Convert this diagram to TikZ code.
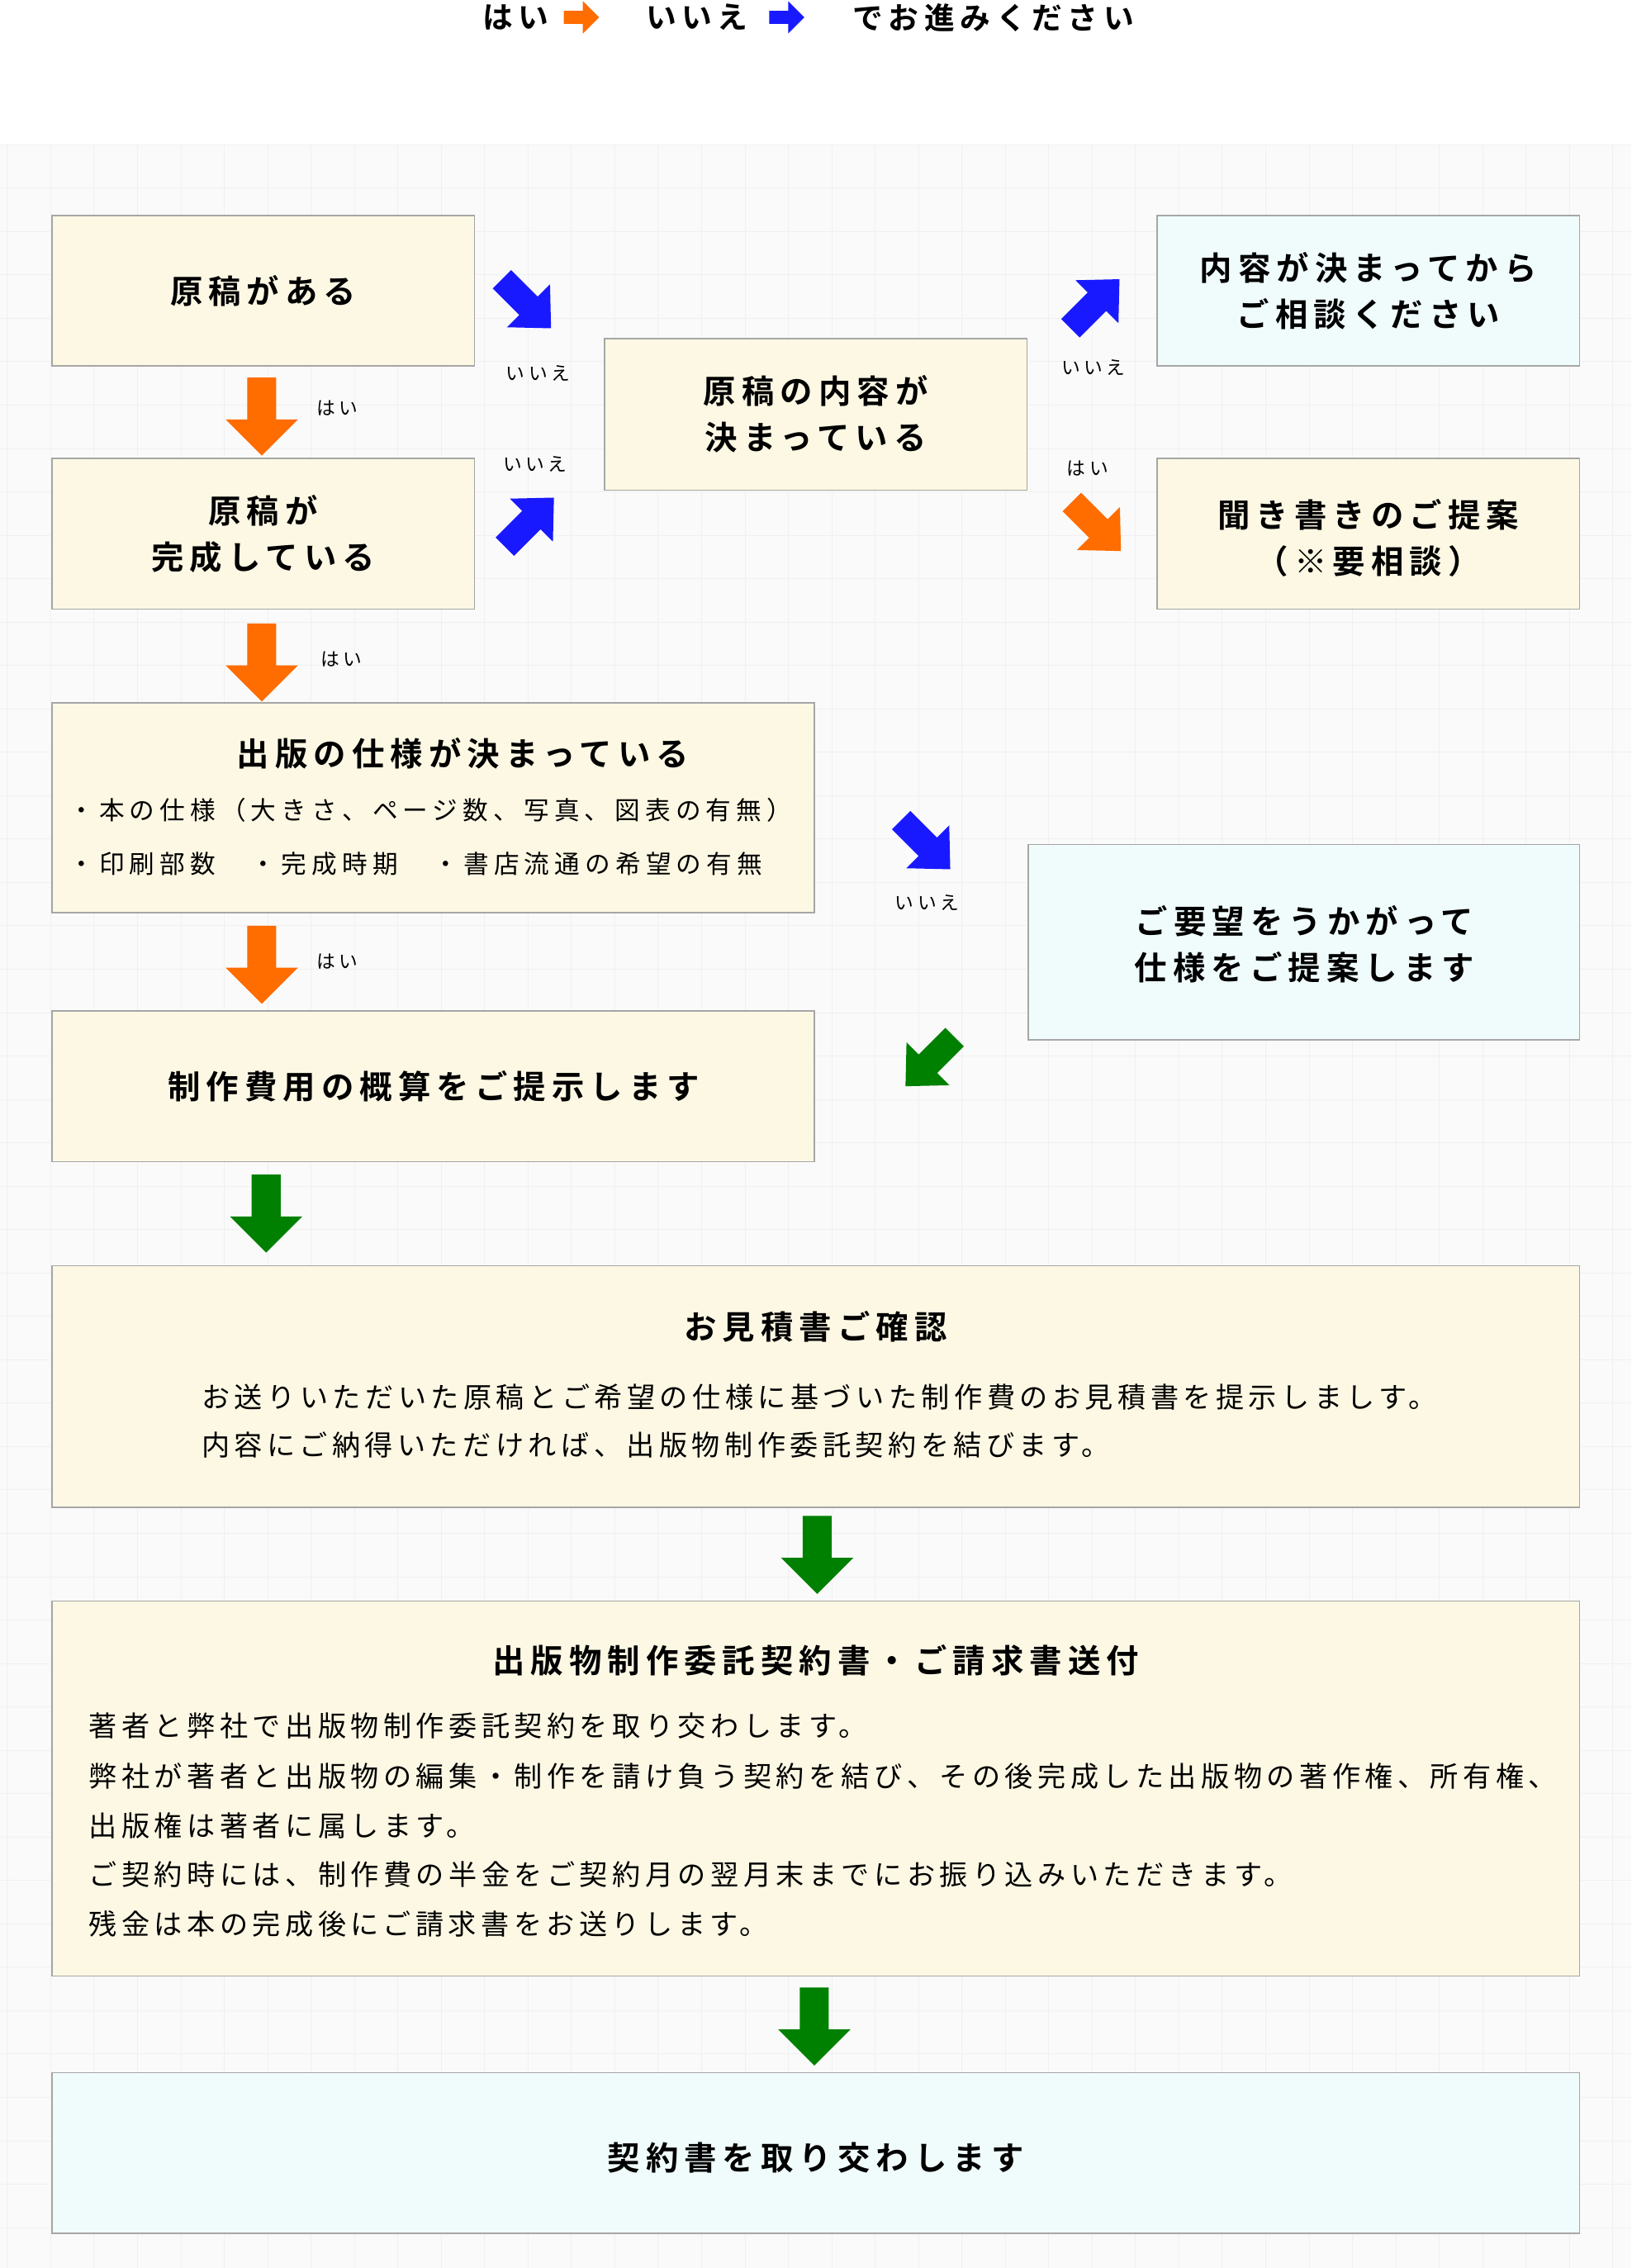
\documentclass[tikz,border=0pt]{standalone}
\usepackage{fontspec}
\setmainfont{Noto Sans CJK JP}
\newfontfamily\jpsp{Noto Sans CJK JP}[LetterSpace=16]
\newfontfamily\jpsm{Noto Sans CJK JP}[LetterSpace=20]
\newfontfamily\jpbt{Noto Sans CJK JP}[LetterSpace=18,BoldFont={Noto Sans CJK JP Bold}]
\begin{document}
\begin{tikzpicture}[x=1pt,y=-1pt,
 cream/.style={draw=black!35,fill=creamc,line width=0.8pt},
 cyanbox/.style={draw=black!35,fill=cyanc,line width=0.8pt},
 ttl/.style={font=\jpbt\fontsize{22.5}{32}\selectfont\bfseries,align=center},
 body/.style={font=\jpsp\fontsize{19.5}{34}\selectfont,anchor=west},
 lbl/.style={font=\jpsm\fontsize{13}{15}\selectfont},
 barrow/.pic={\fill[pic actions] (-10,-27)--(10,-27)--(10,2)--(25,2)--(0,27)--(-25,2)--(-10,2)--cycle;},
 darrow/.pic={\fill[pic actions] (-9,-24)--(9,-24)--(9,2)--(21,2)--(0,24)--(-21,2)--(-9,2)--cycle;}]
\definecolor{creamc}{HTML}{FDF8E4}
\definecolor{cyanc}{HTML}{F0FCFC}
\useasboundingbox (0,0) rectangle (1128,1568);
\fill[white] (0,0) rectangle (1128,1568);
\fill[black!2] (0,100) rectangle (1128,1568);
\foreach \x in {5,35,...,1128} \draw[black!6] (\x,100)--(\x,1568);
\foreach \y in {100,130,...,1568} \draw[black!6] (0,\y)--(1128,\y);
\colorlet{org}{orange!85!red}
\colorlet{blu}{blue!90!white}
\colorlet{grn}{green!50!black}
% legend
\node[ttl,font=\jpbt\fontsize{21}{25}\selectfont\bfseries,anchor=west] (l1) at (330,12) {はい};
\node[ttl,font=\jpbt\fontsize{21}{25}\selectfont\bfseries,anchor=west] (l2) at (443,12) {いいえ};
\node[ttl,font=\jpbt\fontsize{21}{25}\selectfont\bfseries,anchor=west] (l3) at (586,12) {でお進みください};
\pic[fill=org,rotate=90,scale=0.45] at (402,12) {barrow};
\pic[fill=blu,rotate=90,scale=0.45] at (544,12) {barrow};
% boxes
\draw[cream] (36,149) rectangle (328,253); \node[ttl] (a) at (182,201) {原稿がある};
\draw[cream] (36,317) rectangle (328,421); \node[ttl] (b) at (182,369) {原稿が\\完成している};
\draw[cream] (418,234) rectangle (710,339); \node[ttl] (c) at (564,286) {原稿の内容が\\決まっている};
\draw[cyanbox] (800,149) rectangle (1092,253); \node[ttl] (d) at (946,201) {内容が決まってから\\ご相談ください};
\draw[cream] (800,317) rectangle (1092,421); \node[ttl] (e) at (946,372) {聞き書きのご提案\\（※要相談）};
\draw[cream] (36,486) rectangle (563,631); \node[ttl] (f) at (320,521) {出版の仕様が決まっている};
\node[body,font=\jpsm\fontsize{17.5}{20}\selectfont] (f1) at (44,560) {・本の仕様（大きさ、ページ数、写真、図表の有無）};
\node[body,font=\jpsm\fontsize{17.5}{20}\selectfont] (f2) at (44,597) {・印刷部数　・完成時期　・書店流通の希望の有無};
\draw[cyanbox] (711,584) rectangle (1092,719); \node[ttl] (g) at (902,653) {ご要望をうかがって\\仕様をご提案します};
\draw[cream] (36,699) rectangle (563,803); \node[ttl] (h) at (300,751) {制作費用の概算をご提示します};
\draw[cream] (36,875) rectangle (1092,1042); \node[ttl] (i) at (564,917) {お見積書ご確認};
\node[body] (i1) at (136,966) {お送りいただいた原稿とご希望の仕様に基づいた制作費のお見積書を提示しましす。};
\node[body] (i2) at (136,999) {内容にご納得いただければ、出版物制作委託契約を結びます。};
\draw[cream] (36,1107) rectangle (1092,1366); \node[ttl] (j) at (564,1148) {出版物制作委託契約書・ご請求書送付};
\node[body] (j1) at (58,1193) {著者と弊社で出版物制作委託契約を取り交わします。};
\node[body] (j2) at (58,1228) {弊社が著者と出版物の編集・制作を請け負う契約を結び、その後完成した出版物の著作権、所有権、};
\node[body] (j3) at (58,1262) {出版権は著者に属します。};
\node[body] (j4) at (58,1296) {ご契約時には、制作費の半金をご契約月の翌月末までにお振り込みいただきます。};
\node[body] (j5) at (58,1330) {残金は本の完成後にご請求書をお送りします。};
\draw[cyanbox] (36,1433) rectangle (1092,1544); \node[ttl] (k) at (564,1492) {契約書を取り交わします};
% arrows
\pic[fill=org] at (181,288) {barrow};
\pic[fill=org] at (181,458) {barrow};
\pic[fill=org] at (181,667) {barrow};
\pic[fill=grn] at (184,839) {barrow};
\pic[fill=grn] at (565,1075) {barrow};
\pic[fill=grn] at (563,1401) {barrow};
\pic[fill=blu,rotate=45] at (364,210) {darrow};
\pic[fill=blu,rotate=135] at (366,361) {darrow};
\pic[fill=blu,rotate=135] at (757,210) {darrow};
\pic[fill=org,rotate=45] at (758,364) {darrow};
\pic[fill=blu,rotate=45] at (640,584) {darrow};
\pic[fill=grn,rotate=-45] at (643,734) {darrow};
% labels
\node[lbl] (n1) at (372,258) {いいえ};
\node[lbl] (n2) at (370,321) {いいえ};
\node[lbl] (n3) at (756,254) {いいえ};
\node[lbl] (n4) at (752,324) {はい};
\node[lbl] (n5) at (233,282) {はい};
\node[lbl] (n6) at (236,456) {はい};
\node[lbl] (n7) at (233,665) {はい};
\node[lbl] (n8) at (641,624) {いいえ};
\end{tikzpicture}
\end{document}
